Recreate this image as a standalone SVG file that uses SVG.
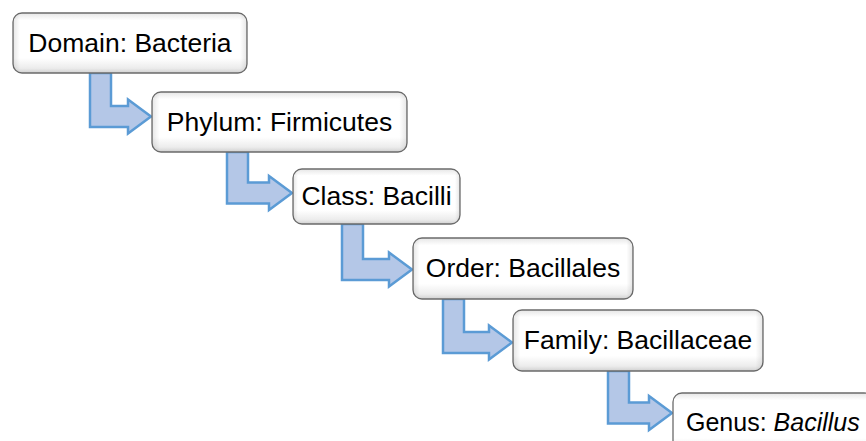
<svg xmlns="http://www.w3.org/2000/svg" width="866" height="441" viewBox="0 0 866 441">
<defs>
<linearGradient id="bev" x1="0" y1="0" x2="0" y2="1">
<stop offset="0" stop-color="#e6e6e6"/>
<stop offset="0.12" stop-color="#ffffff"/>
<stop offset="0.75" stop-color="#ffffff"/>
<stop offset="0.92" stop-color="#ececec"/>
<stop offset="1" stop-color="#d0d0d0"/>
</linearGradient>
<linearGradient id="bevh" x1="0" y1="0" x2="1" y2="0">
<stop offset="0" stop-color="#000" stop-opacity="0.10"/>
<stop offset="0.03" stop-color="#000" stop-opacity="0"/>
<stop offset="0.97" stop-color="#000" stop-opacity="0"/>
<stop offset="1" stop-color="#000" stop-opacity="0.10"/>
</linearGradient>
</defs>
<style>
.box{fill:url(#bev);stroke:#6b6b6b;stroke-width:1.3}
.boxh{fill:url(#bevh);stroke:none}
.lbl{font-family:"Liberation Sans",Arial,sans-serif;font-size:26.5px;fill:#000}
.arr{fill:#b4c7e7;stroke:#5b9bd5;stroke-width:2.5;stroke-linejoin:miter}
</style>
<rect width="866" height="441" fill="#ffffff"/>
<g id="connectors">
<path class="arr" d="M90,73 H111 V106 H128 V99.5 L151,116.5 L128,133.5 V127 H90 Z"/>
<path class="arr" d="M227,152 H248 V182.5 H269 V176 L292,193 L269,210 V203.5 H227 Z"/>
<path class="arr" d="M342,224 H363 V259 H389 V252.5 L412,269.5 L389,286.5 V280 H342 Z"/>
<path class="arr" d="M443,299 H464 V332 H489 V325.5 L512,342.5 L489,359.5 V353 H443 Z"/>
<path class="arr" d="M608,371 H629 V402.5 H649 V396 L672,413 L649,430 V423.5 H608 Z"/>
</g>
<g id="domain">
<rect class="box" x="13" y="13" width="234" height="60" rx="9"/>
<rect class="boxh" x="13" y="13" width="234" height="60" rx="9"/>
<text class="lbl" x="130" y="52" text-anchor="middle">Domain: Bacteria</text>
</g>
<g id="phylum">
<rect class="box" x="152" y="92" width="255" height="60" rx="9"/>
<rect class="boxh" x="152" y="92" width="255" height="60" rx="9"/>
<text class="lbl" x="279.5" y="131" text-anchor="middle">Phylum: Firmicutes</text>
</g>
<g id="class">
<rect class="box" x="293" y="169" width="167" height="55" rx="9"/>
<rect class="boxh" x="293" y="169" width="167" height="55" rx="9"/>
<text class="lbl" x="376.5" y="205" text-anchor="middle">Class: Bacilli</text>
</g>
<g id="order">
<rect class="box" x="413" y="238" width="220" height="61" rx="9"/>
<rect class="boxh" x="413" y="238" width="220" height="61" rx="9"/>
<text class="lbl" x="523" y="277" text-anchor="middle">Order: Bacillales</text>
</g>
<g id="family">
<rect class="box" x="513" y="310" width="250" height="61" rx="9"/>
<rect class="boxh" x="513" y="310" width="250" height="61" rx="9"/>
<text class="lbl" x="638" y="349" text-anchor="middle">Family: Bacillaceae</text>
</g>
<g id="genus">
<rect class="box" x="673" y="393" width="200" height="60" rx="9"/>
<text class="lbl" x="686" y="431" style="font-size:25px">Genus: <tspan font-style="italic">Bacillus</tspan></text>
</g>
</svg>
